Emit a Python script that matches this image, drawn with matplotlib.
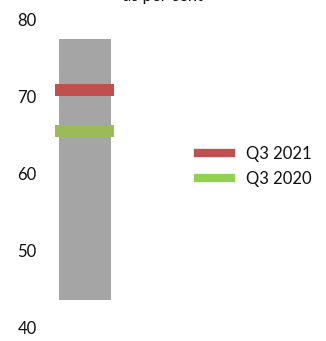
import matplotlib.pyplot as plt
from matplotlib.lines import Line2D

plt.rcParams['font.family'] = ['Lato', 'DejaVu Sans']

# data
range_low = 43.6
range_high = 77.5
series_labels = ["Q3 2021", "Q3 2020"]
series_values = [70.8, 65.5]
line_colors = ["#C0504D", "#9BBB59"]
legend_colors = ["#C0504D", "#92D050"]
yticks = [40, 50, 60, 70, 80]

fig = plt.figure(figsize=(3.26, 3.41), dpi=100)
ax = fig.add_axes([45 / 326, 13 / 341, 80 / 326, 308.5 / 341])

ax.bar(0.5, range_high - range_low, bottom=range_low, width=0.65,
       color="#A5A5A5", zorder=1)
for v, c in zip(series_values, line_colors):
    ax.hlines(v, 0.125, 0.8625, color=c, linewidth=8.6, zorder=2)

ax.set_xlim(0, 1)
ax.set_ylim(40, 80)
ax.set_yticks(yticks)
ax.set_yticklabels([str(t) for t in yticks], fontsize=12, color="#111111")
ax.set_xticks([])
ax.tick_params(axis="y", length=0, pad=6)
for s in ax.spines.values():
    s.set_visible(False)

handles = [Line2D([0], [0], color=c, linewidth=6) for c in legend_colors]
leg = fig.legend(handles, series_labels, loc="center left",
                 bbox_to_anchor=(198 / 326, 1 - 166.5 / 341), frameon=False,
                 fontsize=12, handlelength=2.0, handletextpad=0.85,
                 labelspacing=0.55, borderpad=0, borderaxespad=0)
for t in leg.get_texts():
    t.set_color("#111111")

fig.text(163 / 326, 1 - 4 / 341, "as per cent", ha="center", va="bottom",
         fontsize=12, color="#111111")

fig.savefig("out.png", dpi=100)
